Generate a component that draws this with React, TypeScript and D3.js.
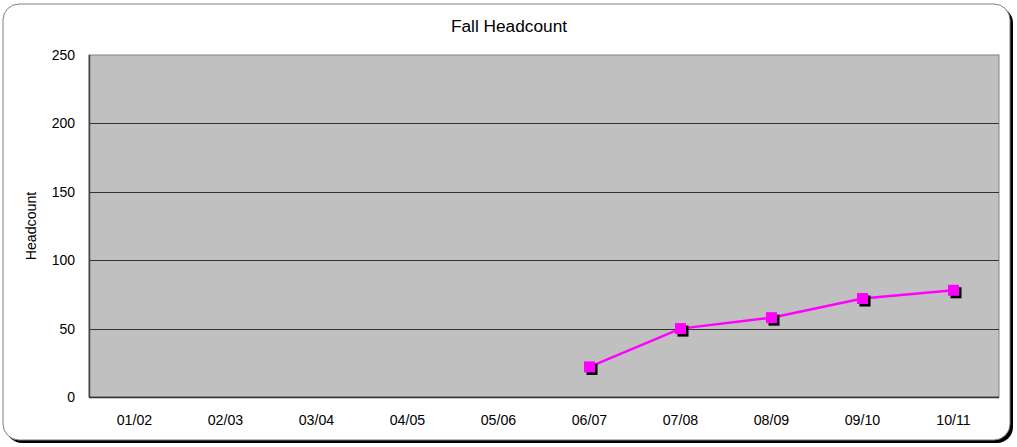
import React from "react";
import * as d3 from "d3";

const categories = ["01/02", "02/03", "03/04", "04/05", "05/06", "06/07", "07/08", "08/09", "09/10", "10/11"];
const headcount: (number | null)[] = [null, null, null, null, null, 22, 50, 58, 72, 78];
const yTicks = [0, 50, 100, 150, 200, 250];

const W = 1017, H = 447;
const M = { left: 89, right: 999, top: 55, bottom: 397 };
const font = "'Liberation Sans', Arial, sans-serif";

export default function App() {
  const x = d3.scaleBand<string>().domain(categories).range([M.left, M.right]);
  const y = d3.scaleLinear().domain([0, 250]).range([M.bottom, M.top]);
  const pts = categories
    .map((c, i) => ({ c, v: headcount[i] }))
    .filter((d) => d.v !== null) as { c: string; v: number }[];
  const cx = (c: string) => (x(c) as number) + x.bandwidth() / 2;
  const line = d3.line<{ c: string; v: number }>().x((d) => cx(d.c)).y((d) => y(d.v));
  const ms = 11;
  return (
    <svg width={W} height={H} style={{ position: "absolute", left: 0, top: 0 }} fontFamily={font}>
      <rect x={6} y={7} width={1007} height={436} rx={16} fill="#000" />
      <rect x={3} y={4} width={1007} height={436} rx={16} fill="#fff" stroke="#7f7f7f" strokeWidth={1} />
      <text x={509} y={32} textAnchor="middle" fontSize={17.3} fill="#000">Fall Headcount</text>
      <rect x={M.left} y={M.top} width={M.right - M.left} height={M.bottom - M.top} fill="#c0c0c0" stroke="#808080" />
      {yTicks.filter((t) => t > 0 && t < 250).map((t) => (
        <line key={t} x1={M.left} x2={M.right} y1={Math.round(y(t)) + 0.5} y2={Math.round(y(t)) + 0.5} stroke="#333" strokeWidth={1} />
      ))}
      <line x1={M.left + 0.5} x2={M.left + 0.5} y1={M.top} y2={M.bottom} stroke="#444" strokeWidth={1.5} />
      <line x1={M.left} x2={M.right} y1={M.bottom + 0.5} y2={M.bottom + 0.5} stroke="#333" strokeWidth={1.5} />
      {yTicks.map((t) => (
        <text key={t} x={75} y={y(t) + 5} textAnchor="end" fontSize={14} fill="#000">{t}</text>
      ))}
      {categories.map((c) => (
        <text key={c} x={cx(c)} y={425} textAnchor="middle" fontSize={14.2} fill="#000">{c}</text>
      ))}
      <text transform={`translate(36,226) rotate(-90)`} textAnchor="middle" fontSize={14.2} fill="#000">Headcount</text>
      <path d={line(pts) || ""} fill="none" stroke="#ff00ff" strokeWidth={2.5} />
      {pts.map((d) => (
        <g key={d.c}>
          <rect x={cx(d.c) - ms / 2 + 2.5} y={y(d.v) - ms / 2 + 2.5} width={ms} height={ms} fill="#000" />
          <rect x={cx(d.c) - ms / 2} y={y(d.v) - ms / 2} width={ms} height={ms} fill="#ff00ff" />
        </g>
      ))}
    </svg>
  );
}
